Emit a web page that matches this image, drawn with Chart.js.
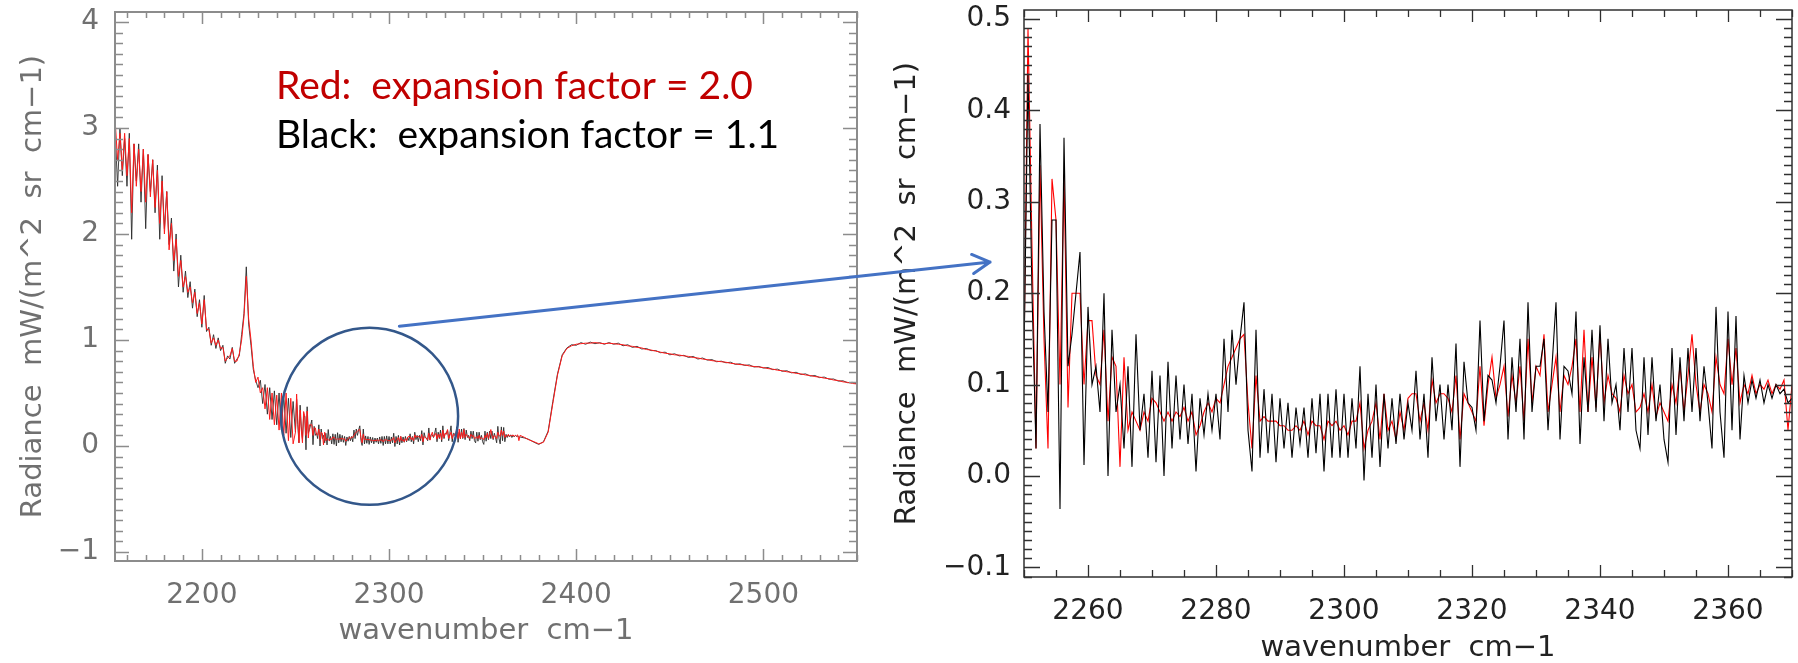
<!DOCTYPE html>
<html>
<head>
<meta charset="utf-8">
<script src="https://cdn.jsdelivr.net/npm/chart.js@4.4.1/dist/chart.umd.min.js"></script>
<style>
  html, body { margin: 0; padding: 0; background: #fff; }
  #wrap { position: relative; width: 1798px; height: 663px; overflow: hidden; }
  #left { position: absolute; left: 0; top: 0; }
  #right { position: absolute; left: 875px; top: 0; }
  #overlay { position: absolute; left: 0; top: 0; pointer-events: none; }
</style>
</head>
<body>
<div id="wrap">
  <canvas id="left" width="875" height="663"></canvas>
  <canvas id="right" width="923" height="663"></canvas>
  <canvas id="overlay" width="1798" height="663"></canvas>
</div>
<script>
// spectral grid: CrIS shortwave, 0.625 cm-1 samples in the zoomed window
const zoomStart = 2250, zoomStep = 0.625;
const zoomBlack = [
  0.13, 0.44, 0.20, 0.03, 0.385, 0.18, 0.07, 0.28,
  0.28, -0.036, 0.37, 0.12, 0.155, 0.2, 0.245, 0.012,
  0.185, 0.10, 0.12, 0.07, 0.20, 0.00, 0.16, 0.07,
  0.10, 0.03, 0.12, 0.01, 0.155, 0.05, 0.09, 0.02,
  0.115, 0.015, 0.11, 0.00, 0.125, 0.03, 0.11, 0.04,
  0.10, 0.035, 0.09, 0.005, 0.085, 0.045, 0.09, 0.05,
  0.09, 0.04, 0.15, 0.07, 0.16, 0.10, 0.15, 0.19,
  0.05, 0.005, 0.16, 0.02, 0.095, 0.025, 0.09, 0.015,
  0.085, 0.03, 0.08, 0.02, 0.075, 0.035, 0.075, 0.02,
  0.085, 0.025, 0.09, 0.005, 0.09, 0.02, 0.095, 0.02,
  0.09, 0.02, 0.085, 0.03, 0.12, -0.005, 0.09, 0.02,
  0.10, 0.01, 0.09, 0.03, 0.085, 0.035, 0.09, 0.04,
  0.08, 0.05, 0.115, 0.04, 0.09, 0.02, 0.13, 0.06,
  0.10, 0.04, 0.10, 0.05, 0.145, 0.01, 0.125, 0.08,
  0.075, 0.05, 0.17, 0.06, 0.11, 0.105, 0.08, 0.12,
  0.17, 0.04, 0.13, 0.07, 0.15, 0.04, 0.19, 0.07,
  0.12, 0.12, 0.15, 0.05, 0.12, 0.19, 0.04, 0.12,
  0.115, 0.09, 0.18, 0.035, 0.13, 0.07, 0.16, 0.07,
  0.165, 0.06, 0.15, 0.08, 0.10, 0.05, 0.14, 0.07,
  0.14, 0.05, 0.03, 0.13, 0.045, 0.13, 0.06, 0.10,
  0.04, 0.015, 0.14, 0.045, 0.13, 0.06, 0.14, 0.07,
  0.14, 0.06, 0.12, 0.08, 0.03, 0.185, 0.07, 0.02,
  0.18, 0.05, 0.175, 0.04, 0.11, 0.08, 0.105, 0.085,
  0.105, 0.08, 0.10, 0.085, 0.10, 0.09, 0.095, 0.08,
  0.085
];
const zoomRed = [
  0.13, 0.49, 0.25, 0.03, 0.34, 0.15, 0.03, 0.325,
  0.28, 0.10, 0.33, 0.075, 0.2, 0.2, 0.2, 0.10,
  0.17, 0.17, 0.11, 0.10, 0.16, 0.06, 0.13, 0.12,
  0.01, 0.13, 0.05, 0.07, 0.06, 0.05, 0.07, 0.06,
  0.085, 0.08, 0.07, 0.06, 0.07, 0.06, 0.07, 0.065,
  0.075, 0.06, 0.07, 0.045, 0.055, 0.07, 0.08, 0.07,
  0.085, 0.08, 0.10, 0.12, 0.13, 0.14, 0.15, 0.155,
  0.08, 0.03, 0.11, 0.06, 0.065, 0.06, 0.06, 0.06,
  0.055, 0.055, 0.05, 0.05, 0.055, 0.05, 0.06, 0.045,
  0.06, 0.055, 0.055, 0.04, 0.06, 0.055, 0.06, 0.05,
  0.055, 0.045, 0.06, 0.06, 0.08, 0.03, 0.05, 0.06,
  0.08, 0.04, 0.09, 0.05, 0.06, 0.04, 0.07, 0.05,
  0.085, 0.09, 0.09, 0.06, 0.08, 0.05, 0.105, 0.08,
  0.09, 0.09, 0.085, 0.07, 0.11, 0.04, 0.09, 0.08,
  0.07, 0.06, 0.12, 0.055, 0.10, 0.13, 0.085, 0.10,
  0.12, 0.065, 0.11, 0.08, 0.12, 0.06, 0.15, 0.08,
  0.12, 0.11, 0.155, 0.07, 0.10, 0.13, 0.07, 0.11,
  0.10, 0.12, 0.15, 0.07, 0.16, 0.07, 0.13, 0.075,
  0.155, 0.08, 0.11, 0.09, 0.085, 0.07, 0.11, 0.09,
  0.10, 0.07, 0.075, 0.09, 0.07, 0.10, 0.065, 0.08,
  0.07, 0.06, 0.10, 0.08, 0.12, 0.07, 0.11, 0.155,
  0.10, 0.07, 0.10, 0.09, 0.07, 0.13, 0.10, 0.09,
  0.15, 0.10, 0.14, 0.08, 0.10, 0.09, 0.11, 0.09,
  0.10, 0.095, 0.105, 0.09, 0.10, 0.095, 0.105, 0.05,
  0.10
];

// rest of the band, read coarser off the full-range panel
const lowStart = 2153.75, lowStep = 1.25;
const lowBlack = [
  2.95, 2.45, 3.0, 2.55, 2.9, 2.45, 2.95, 1.95, 2.85, 2.5,
  2.85, 2.3, 2.8, 2.05, 2.75, 2.4, 2.7, 2.2, 2.65, 1.95,
  2.55, 2.05, 2.4, 1.9, 2.15, 1.65, 2.0, 1.5, 1.8, 1.45,
  1.65, 1.4, 1.55, 1.3, 1.48, 1.22, 1.38, 1.12, 1.42, 1.08,
  1.12, 0.95, 1.05, 0.92, 1.02, 0.9, 0.95, 0.78, 0.85, 0.82,
  0.93, 0.78, 0.82, 0.85, 1.05, 1.25, 1.69, 1.15, 0.95, 0.72,
  0.62, 0.55, 0.62, 0.4, 0.58, 0.3, 0.55, 0.25, 0.52, 0.2,
  0.5, 0.15, 0.48, 0.12, 0.45, 0.08, 0.42
];
const lowRed = [
  3.05, 2.7, 2.95, 2.6, 2.95, 2.55, 2.9, 2.2, 2.85, 2.45,
  2.8, 2.4, 2.8, 2.3, 2.75, 2.35, 2.7, 2.25, 2.6, 2.1,
  2.5, 2.0, 2.4, 1.85, 2.1, 1.75, 1.95, 1.6, 1.75, 1.5,
  1.6, 1.45, 1.5, 1.35, 1.45, 1.25, 1.35, 1.15, 1.38, 1.1,
  1.1, 0.97, 1.02, 0.95, 1.0, 0.92, 0.93, 0.8, 0.83, 0.85,
  0.92, 0.8, 0.8, 0.87, 1.0, 1.22, 1.6, 1.2, 1.0, 0.75,
  0.6, 0.65, 0.5, 0.55, 0.35, 0.55, 0.25, 0.5, 0.2, 0.48,
  0.15, 0.5, 0.1, 0.5, 0.05, 0.45, 0.02
];
const highStart = 2372.5, highStep = 2.5;
const highBlack = [
  0.075, 0.06, 0.035, 0.015, 0.04, 0.14, 0.42, 0.68, 0.86, 0.925,
  0.955, 0.95, 0.975, 0.96, 0.98, 0.965, 0.975, 0.96, 0.975, 0.96,
  0.97, 0.945, 0.955, 0.93, 0.94, 0.915, 0.92, 0.9, 0.9, 0.88,
  0.885, 0.86, 0.87, 0.85, 0.855, 0.835, 0.845, 0.82, 0.83, 0.81,
  0.815, 0.795, 0.8, 0.785, 0.79, 0.77, 0.775, 0.76, 0.765, 0.745,
  0.75, 0.735, 0.74, 0.72, 0.725, 0.705, 0.71, 0.69, 0.695, 0.675,
  0.68, 0.66, 0.665, 0.645, 0.65, 0.63, 0.632, 0.612, 0.615, 0.597,
  0.6, 0.585
];
const highRed = [
  0.08, 0.055, 0.04, 0.02, 0.035, 0.13, 0.4, 0.67, 0.85, 0.92,
  0.945, 0.96, 0.965, 0.97, 0.97, 0.975, 0.97, 0.965, 0.97, 0.965,
  0.96, 0.955, 0.945, 0.94, 0.93, 0.925, 0.91, 0.905, 0.895, 0.885,
  0.875, 0.87, 0.86, 0.858, 0.85, 0.845, 0.835, 0.83, 0.82, 0.815,
  0.805, 0.8, 0.795, 0.79, 0.78, 0.775, 0.768, 0.765, 0.755, 0.75,
  0.745, 0.74, 0.73, 0.725, 0.715, 0.71, 0.7, 0.695, 0.685, 0.68,
  0.67, 0.665, 0.655, 0.65, 0.64, 0.635, 0.622, 0.618, 0.605, 0.6,
  0.59, 0.585
];

const leftXTicks = [2200, 2300, 2400, 2500];
const leftYTicks = [-1, 0, 1, 2, 3, 4];
const rightXTicks = [2260, 2280, 2300, 2320, 2340, 2360];
const rightYTicks = [-0.1, 0.0, 0.1, 0.2, 0.3, 0.4, 0.5];

const yTitle = 'Radiance  mW/(m^2  sr  cm\u22121)';
const xTitle = 'wavenumber  cm\u22121';
const notes = [
  { text: 'Red:  expansion factor = 2.0', color: '#c00000' },
  { text: 'Black:  expansion factor = 1.1', color: '#000000' }
];

// zoom window marker (circle) and arrow, in data units
const circleCenter = { x: 2289.6, y: 0.28 }, circleRadius = 47.3;
const arrowFrom = [2305.5, 1.13], arrowTo = [2244.7, 0.234];

function toPoints(start, step, values) {
  return values.map((v, i) => ({ x: start + step * i, y: v }));
}
const minus = (s) => s.replace('-', '\u2212');

const tickFont = { family: 'DejaVu Sans', size: 28 };
const titleFont = { family: 'DejaVu Sans', size: 29 };

// IDL-ish box with inward ticks on all four sides
const boxTicks = {
  id: 'boxTicks',
  afterDraw(chart, args, o) {
    const { ctx, chartArea: a } = chart;
    const xs = chart.scales.x, ys = chart.scales.y;
    const isMajor = (v, m) => Math.abs(v / m - Math.round(v / m)) < 1e-6;
    ctx.save();
    ctx.strokeStyle = o.color;
    ctx.lineWidth = o.tickWidth;
    ctx.beginPath();
    for (let k = Math.ceil(xs.min / o.xMinor - 1e-6); k * o.xMinor <= xs.max + 1e-9; k++) {
      const v = k * o.xMinor;
      const len = isMajor(v, o.xMajor) ? o.xMajorLen : o.xMinorLen;
      const px = Math.round(xs.getPixelForValue(v)) + 0.5;
      ctx.moveTo(px, a.bottom); ctx.lineTo(px, a.bottom - len);
      ctx.moveTo(px, a.top); ctx.lineTo(px, a.top + len);
    }
    for (let k = Math.ceil(ys.min / o.yMinor - 1e-6); k * o.yMinor <= ys.max + 1e-9; k++) {
      const v = k * o.yMinor;
      const len = isMajor(v, o.yMajor) ? o.yMajorLen : o.yMinorLen;
      const py = Math.round(ys.getPixelForValue(v)) + 0.5;
      ctx.moveTo(a.left, py); ctx.lineTo(a.left + len, py);
      ctx.moveTo(a.right, py); ctx.lineTo(a.right - len, py);
    }
    ctx.stroke();
    ctx.lineWidth = o.lineWidth;
    ctx.strokeRect(a.left, a.top, a.right - a.left, a.bottom - a.top);
    ctx.restore();
  }
};

const zoomCircle = {
  id: 'zoomCircle',
  afterDraw(chart) {
    const { ctx } = chart;
    const xs = chart.scales.x, ys = chart.scales.y;
    const cx = xs.getPixelForValue(circleCenter.x);
    const cy = ys.getPixelForValue(circleCenter.y);
    const r = xs.getPixelForValue(circleCenter.x + circleRadius) - cx;
    ctx.save();
    ctx.strokeStyle = '#33578a';
    ctx.lineWidth = 2.5;
    ctx.beginPath();
    ctx.arc(cx, cy, r, 0, Math.PI * 2);
    ctx.stroke();
    ctx.restore();
  }
};

function makePanel(id, cfg) {
  return new Chart(document.getElementById(id), {
    type: 'line',
    data: { datasets: cfg.datasets },
    options: {
      responsive: false,
      animation: false,
      events: [],
      layout: { padding: cfg.padding },
      elements: { point: { radius: 0 }, line: { tension: 0 } },
      plugins: { legend: { display: false }, tooltip: { enabled: false }, boxTicks: cfg.box },
      scales: {
        x: {
          type: 'linear', min: cfg.xMin, max: cfg.xMax,
          grid: { display: false, drawTicks: false, tickLength: 0 },
          border: { display: false },
          afterBuildTicks: (s) => { s.ticks = cfg.xTicks.map((v) => ({ value: v })); },
          afterFit: (s) => { s.height = cfg.xHeight; s.paddingLeft = 0; s.paddingRight = 0; },
          ticks: { font: tickFont, color: cfg.labelColor, padding: cfg.xPad, maxRotation: 0,
                   callback: (v) => minus(String(v)) },
          title: { display: true, text: xTitle, color: cfg.labelColor, font: titleFont,
                   padding: { top: 0, bottom: cfg.xTitlePad } }
        },
        y: {
          min: cfg.yMin, max: cfg.yMax,
          grid: { display: false, drawTicks: false, tickLength: 0 },
          border: { display: false },
          afterBuildTicks: (s) => { s.ticks = cfg.yTicks.map((v) => ({ value: v })); },
          afterFit: (s) => { s.width = cfg.yWidth; s.paddingTop = 0; s.paddingBottom = 0; },
          ticks: { font: tickFont, color: cfg.labelColor, padding: cfg.yPad,
                   callback: cfg.yFormat },
          title: { display: true, text: yTitle, color: cfg.labelColor, font: titleFont,
                   padding: { top: cfg.yTitlePad, bottom: 0 } }
        }
      }
    },
    plugins: cfg.plugins
  });
}

const leftRedPts = [...toPoints(lowStart, lowStep, lowRed), ...toPoints(zoomStart, zoomStep, zoomRed), ...toPoints(highStart, highStep, highRed)];
const leftBlackPts = [...toPoints(lowStart, lowStep, lowBlack), ...toPoints(zoomStart, zoomStep, zoomBlack), ...toPoints(highStart, highStep, highBlack)];

const leftChart = makePanel('left', {
  datasets: [
    { label: 'Red', data: leftRedPts, borderColor: '#ff1a1a', borderWidth: 1 },
    { label: 'Black', data: leftBlackPts, borderColor: '#2a2a2a', borderWidth: 0.9 }
  ],
  padding: { left: 0, right: 18, top: 12, bottom: 0 },
  xMin: 2153.6, xMax: 2550, yMin: -1.085, yMax: 4.094,
  xTicks: leftXTicks, yTicks: leftYTicks,
  xHeight: 102, yWidth: 115, xPad: 18, yPad: 16, xTitlePad: 14, yTitlePad: 16,
  labelColor: '#707070',
  yFormat: (v) => minus(String(v)),
  box: { color: '#8c8c8c', lineWidth: 2, tickWidth: 1.5,
         xMinor: 10, xMajor: 100, xMajorLen: 12, xMinorLen: 6,
         yMinor: 0.1, yMajor: 1, yMajorLen: 14, yMinorLen: 8 },
  plugins: [boxTicks, zoomCircle]
});

const rightChart = makePanel('right', {
  datasets: [
    { label: 'Black', data: toPoints(zoomStart, zoomStep, zoomBlack), borderColor: '#000000', borderWidth: 1.1 },
    { label: 'Red', data: toPoints(zoomStart, zoomStep, zoomRed), borderColor: '#ff0000', borderWidth: 1.1 }
  ],
  padding: { left: 0, right: 6, top: 10, bottom: 0 },
  xMin: 2250, xMax: 2370, yMin: -0.1105, yMax: 0.5098,
  xTicks: rightXTicks, yTicks: rightYTicks,
  xHeight: 86, yWidth: 149, xPad: 18, yPad: 13, xTitlePad: -3, yTitlePad: 15,
  labelColor: '#222222',
  yFormat: (v) => minus(v.toFixed(1)),
  box: { color: '#303030', lineWidth: 1.5, tickWidth: 1.3,
         xMinor: 5, xMajor: 20, xMajorLen: 12, xMinorLen: 7,
         yMinor: 0.01, yMajor: 0.1, yMajorLen: 16, yMinorLen: 8 },
  plugins: [boxTicks]
});

// overlay: annotation text and the arrow that joins the two panels
const ov = document.getElementById('overlay').getContext('2d');
ov.font = '39px Lato';
ov.textBaseline = 'alphabetic';
notes.forEach((n, i) => {
  ov.fillStyle = n.color;
  ov.fillText(n.text, 276, 99 + i * 49);
});

const rightOffset = 875;
const p0 = { x: leftChart.scales.x.getPixelForValue(arrowFrom[0]), y: leftChart.scales.y.getPixelForValue(arrowFrom[1]) };
const p1 = { x: rightOffset + rightChart.scales.x.getPixelForValue(arrowTo[0]), y: rightChart.scales.y.getPixelForValue(arrowTo[1]) };
ov.strokeStyle = '#4472c4';
ov.lineWidth = 3;
ov.lineCap = 'round';
ov.beginPath();
ov.moveTo(p0.x, p0.y);
ov.lineTo(p1.x, p1.y);
const ang = Math.atan2(p1.y - p0.y, p1.x - p0.x);
[0.5, -0.5].forEach((d) => {
  ov.moveTo(p1.x, p1.y);
  ov.lineTo(p1.x - 20 * Math.cos(ang + d), p1.y - 20 * Math.sin(ang + d));
});
ov.stroke();
</script>
</body>
</html>
